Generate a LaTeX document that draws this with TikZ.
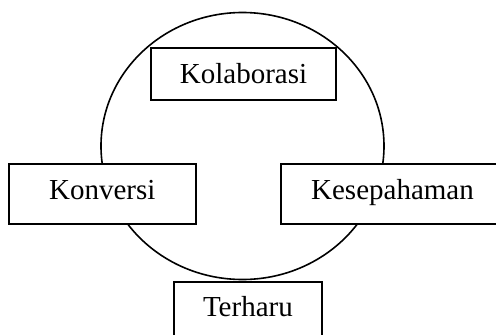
\documentclass[tikz,border=0pt]{standalone}
\usepackage{fontspec}
\setmainfont{Liberation Serif}
\begin{document}
\begin{tikzpicture}[x=1pt,y=-1pt,
  stroke/.style={line width=1.6pt},
  labelbox/.style={stroke, draw, fill=white, rectangle, inner sep=0pt,
    text height=19pt, text depth=0pt,
    font=\fontsize{29}{33}\selectfont}]
\useasboundingbox (0,0) rectangle (496,335);
% the surrounding cycle
\draw[stroke] (242.5,146) ellipse [x radius=141.5, y radius=133.5];
% the four stages placed on it
\node[labelbox, minimum width=185pt, minimum height=52pt] (kol) at (243.5,73.7) {Kolaborasi};
\node[labelbox, text depth=8pt, minimum width=187pt, minimum height=60pt] (kon) at (102.3,194) {Konversi};
\node[labelbox, text depth=8pt, minimum width=223pt, minimum height=60pt] (kes) at (392.5,194) {Kesepahaman};
\node[labelbox, text depth=10.4pt, minimum width=148pt, minimum height=60pt] (ter) at (247.9,311.7) {Terharu};
\end{tikzpicture}
\end{document}
